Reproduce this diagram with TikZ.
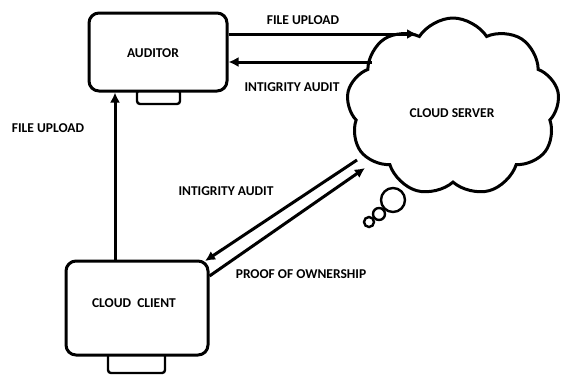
\documentclass[tikz,border=0pt]{standalone}
\usepackage{fontspec}
\setmainfont{Carlito}
\usetikzlibrary{arrows.meta,shapes.symbols}
\begin{document}
\begin{tikzpicture}[x=1pt,y=-1pt,
  line width=3pt,
  box/.style={draw,fill=white,rounded corners=10pt,inner sep=0pt},
  tab/.style={draw,fill=white,rounded corners=3pt,inner sep=0pt,line width=2.4pt},
  lbl/.style={font=\bfseries\fontsize{13.5}{15}\selectfont,inner sep=0pt},
  arr/.style={-{Latex[length=10pt,width=10pt]}},
  bub/.style={draw,circle,inner sep=0pt,line width=2.4pt}]
\useasboundingbox (0,0) rectangle (561,376);
% auditor
\node[tab,minimum width=43pt,minimum height=14pt] (atab) at (158.5,97) {};
\node[box,minimum width=138pt,minimum height=78pt] (auditor) at (158,52) {};
\node[lbl] (atxt) at (153,53) {AUDITOR};
% client
\node[tab,minimum width=57pt,minimum height=20pt] (ctab) at (136.5,363) {};
\node[box,minimum width=142pt,minimum height=94pt] (client) at (137,308) {};
\node[lbl] (ctxt) at (134,303) {CLOUD\ \ CLIENT};
% cloud
\node[cloud,draw,cloud puffs=9,cloud puff arc=115,aspect=1.2,
  minimum width=213pt,minimum height=178pt,inner sep=0pt] (cloud) at (453,107) {};
\node[lbl] (stxt) at (452,113) {CLOUD SERVER};
\node[bub,minimum size=24pt] (b1) at (393,200) {};
\node[bub,minimum size=12pt] (b2) at (379,214) {};
\node[bub,minimum size=10pt] (b3) at (369,222) {};
% connectors
\coordinate (c1) at (417,34);
\coordinate (c2) at (372,62);
\coordinate (c3) at (357,160);
\coordinate (c4) at (365,168);
\draw[arr] (auditor.east |- c1) -- (c1);
\draw[arr] (c2) -- (auditor.east |- c2);
\draw[arr] (client.north -| 115,0) -- (auditor.south -| 115,0);
\draw[arr] (c3) -- (205,261);
\draw[arr] (client.east |- 0,276) -- (c4);
% labels
\node[lbl] (l1) at (303,20) {FILE UPLOAD};
\node[lbl] (l2) at (292,87) {INTIGRITY AUDIT};
\node[lbl] (l3) at (48,128) {FILE UPLOAD};
\node[lbl] (l4) at (226,191) {INTIGRITY AUDIT};
\node[lbl] (l5) at (301,274) {PROOF OF OWNERSHIP};
\end{tikzpicture}
\end{document}
